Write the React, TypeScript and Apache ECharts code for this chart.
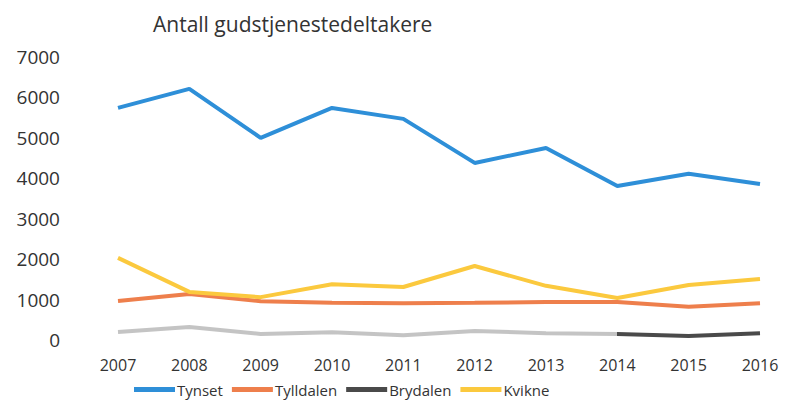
import React, { useEffect, useRef } from "react";
import * as echarts from "echarts";

const years = ["2007", "2008", "2009", "2010", "2011", "2012", "2013", "2014", "2015", "2016"];
const tynset = [5740, 6210, 5000, 5740, 5470, 4380, 4750, 3810, 4110, 3860];
const tylldalen = [965, 1140, 960, 920, 910, 920, 940, 940, 820, 910];
const brydalen = [200, 320, 150, 190, 120, 220, 170, 150, 100, 170];
const kvikne = [2030, 1190, 1060, 1380, 1310, 1830, 1340, 1040, 1360, 1510];
const seriesNames = ["Tynset", "Tylldalen", "Brydalen", "Kvikne"];
const colors = ["#2e8fd8", "#ee7f4c", "#4a4a4a", "#fbc93e"];

export default function App() {
  const ref = useRef<HTMLDivElement>(null);
  useEffect(() => {
    if (!ref.current) return;
    const chart = echarts.init(ref.current, undefined, { renderer: "svg" });
    const font = "Open Sans";
    const dataSets = [tynset, tylldalen, brydalen, kvikne];
    const split = 7 / 9;
    const brydalenStroke = new echarts.graphic.LinearGradient(0, 0, 1, 0, [
      { offset: 0, color: "#c4c4c4" },
      { offset: split, color: "#c4c4c4" },
      { offset: split, color: colors[2] },
      { offset: 1, color: colors[2] },
    ]);
    chart.setOption({
      animation: false,
      backgroundColor: "#ffffff",
      title: {
        text: "Antall gudstjenestedeltakere",
        left: 148,
        top: 8,
        textStyle: { fontFamily: font, fontSize: 21, fontWeight: "normal", color: "#333" },
      },
      grid: { left: 118, right: 27, top: 57, bottom: 62, containLabel: false },
      legend: {
        bottom: 0,
        left: 129,
        itemWidth: 41,
        itemHeight: 5,
        itemGap: 9,
        icon: "rect",
        textStyle: { fontFamily: font, fontSize: 15, color: "#333", padding: [0, 0, 0, -3] },
        data: seriesNames.map((n, i) => ({ name: n, itemStyle: { color: colors[i] } })),
      },
      xAxis: {
        type: "category",
        data: years,
        boundaryGap: false,
        axisLine: { show: false },
        axisTick: { show: false },
        axisLabel: { fontFamily: font, fontSize: 16, color: "#333", margin: 17 },
      },
      yAxis: {
        type: "value",
        min: 0,
        max: 7000,
        interval: 1000,
        splitLine: { show: false },
        axisLabel: {
          fontFamily: font,
          fontSize: 19,
          color: "#333",
          margin: 58,
          formatter: (v: number) => String(v),
        },
      },
      series: dataSets.map((d, i) => ({
        name: seriesNames[i],
        type: "line",
        data: d,
        showSymbol: false,
        color: colors[i],
        lineStyle: { width: 4, color: i === 2 ? brydalenStroke : colors[i] },
        z: i === 2 ? 1 : 2 + i,
      })),
    });
    return () => chart.dispose();
  }, []);
  return <div ref={ref} style={{ width: 787, height: 402, position: "absolute", left: 0, top: 0 }} />;
}
